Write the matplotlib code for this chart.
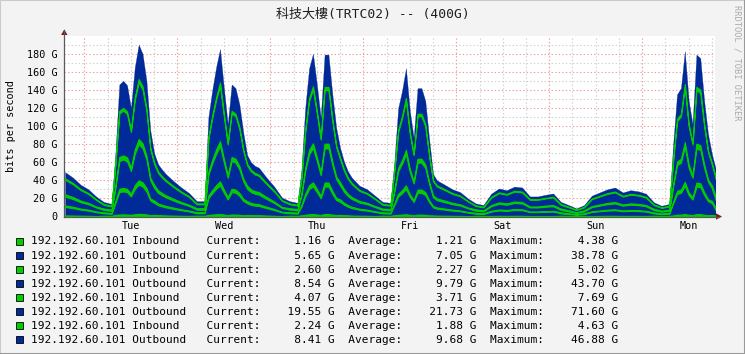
import matplotlib
matplotlib.use('Agg')
import matplotlib.pyplot as plt
from matplotlib.lines import Line2D
from matplotlib.patches import Polygon, Rectangle

# sample times in hours from Tue 00:00 (hourly around the daytime peaks)
hours = [-5, -3, -1,
         1, 3, 5, 7, 8, 9, 10, 11, 12, 13, 14, 15, 16, 17, 18, 19, 20, 21, 23,
         25, 27, 29, 31, 32, 33, 34, 35, 36, 37, 38, 39, 40, 41, 42, 43, 44, 45, 47,
         49, 51, 53, 55, 56, 57, 58, 59, 60, 61, 62, 63, 64, 65, 66, 67, 68, 69, 71,
         73, 75, 77, 79, 80, 81, 82, 83, 84, 85, 86, 87, 88, 89, 90, 91, 93, 95,
         97, 99, 101, 103, 105, 107, 109, 111, 113, 115, 117, 119,
         121, 123, 125, 127, 129, 131, 133, 135, 137, 139, 141, 143,
         145, 147, 149, 151, 152, 153, 154, 155, 156, 157, 158, 159, 160, 161, 162, 163]

in1 = [1.2, 1.1, 0.9,
       0.8, 0.6, 0.9, 0.8, 1.8, 2.2, 2.3, 2.2, 1.8, 2.5, 2.9, 2.7, 2.3, 1.4, 1.8, 1.5, 1.3, 1.2, 1.0,
       0.8, 0.7, 0.9, 0.9, 1.7, 2.1, 2.5, 2.8, 2.1, 1.5, 2.2, 2.1, 1.9, 1.4, 1.7, 1.5, 1.4, 1.4, 1.1,
       0.8, 0.5, 0.9, 0.8, 1.3, 1.8, 2.5, 2.7, 2.2, 1.6, 2.7, 2.7, 2.0, 1.5, 1.9, 1.5, 1.3, 1.1, 0.9,
       0.8, 0.6, 0.9, 0.8, 1.5, 1.8, 2.1, 2.5, 1.8, 1.3, 2.1, 2.1, 1.9, 1.3, 1.2, 1.0, 0.9, 0.8,
       0.7, 0.5, 0.8, 0.7, 0.6, 0.8, 0.7, 0.8, 0.8, 0.6, 0.6, 0.6,
       0.6, 0.9, 0.7, 0.5, 0.7, 0.6, 0.7, 0.8, 0.8, 0.7, 0.7, 0.7,
       0.6, 0.9, 0.7, 0.8, 1.2, 2.0, 2.1, 2.7, 1.9, 1.5, 2.7, 2.6, 1.9, 1.4, 1.7, 1.16]
out1 = [9.3, 8.2, 6.7,
        5.7, 4.2, 2.6, 2.2, 13.3, 24.8, 25.5, 24.7, 20.4, 28.1, 32.3, 30.6, 25.5, 16.2, 13.3, 11.0, 9.9, 8.9, 7.4,
        6.1, 4.9, 2.7, 2.7, 18.7, 23.8, 28.1, 31.5, 24.1, 17.3, 24.8, 24.1, 21.1, 15.8, 12.9, 11.4, 10.6, 10.3, 8.2,
        6.3, 4.0, 2.7, 2.4, 9.5, 20.4, 27.9, 30.6, 24.8, 18.5, 30.4, 30.4, 23.0, 16.7, 14.4, 11.6, 9.5, 8.2, 6.5,
        5.7, 4.4, 2.6, 2.4, 11.4, 20.4, 23.6, 27.9, 19.9, 14.8, 24.1, 24.1, 21.8, 14.5, 8.9, 7.6, 6.7, 5.7,
        5.1, 3.8, 2.3, 2.0, 4.8, 5.9, 5.5, 6.3, 6.1, 4.2, 4.2, 4.6,
        4.8, 2.6, 2.0, 1.4, 2.0, 4.4, 5.1, 5.7, 6.1, 5.1, 5.5, 5.3,
        4.8, 2.5, 1.9, 2.2, 13.6, 23.0, 24.1, 31.1, 21.8, 17.3, 30.4, 29.8, 21.8, 15.5, 13.1, 5.65]
in2 = [1.7, 1.5, 1.2,
       1.1, 0.8, 1.1, 1.0, 2.5, 3.7, 3.8, 3.6, 3.0, 4.1, 4.8, 4.5, 3.8, 2.4, 2.5, 2.0, 1.8, 1.6, 1.4,
       1.1, 0.9, 1.2, 1.2, 2.8, 3.5, 4.1, 4.6, 3.6, 2.6, 3.7, 3.6, 3.1, 2.3, 2.4, 2.1, 2.0, 1.9, 1.5,
       1.2, 0.7, 1.2, 1.1, 1.8, 3.0, 4.1, 4.5, 3.7, 2.7, 4.5, 4.5, 3.4, 2.5, 2.7, 2.1, 1.8, 1.5, 1.2,
       1.1, 0.8, 1.1, 1.1, 2.1, 3.0, 3.5, 4.1, 2.9, 2.2, 3.6, 3.6, 3.2, 2.1, 1.6, 1.4, 1.2, 1.1,
       0.9, 0.7, 1.0, 0.9, 0.9, 1.1, 1.0, 1.2, 1.1, 0.8, 0.8, 0.8,
       0.9, 1.1, 0.9, 0.6, 0.9, 0.8, 0.9, 1.1, 1.1, 0.9, 1.0, 1.0,
       0.9, 1.1, 0.8, 1.0, 2.0, 3.4, 3.6, 4.6, 3.2, 2.6, 4.5, 4.4, 3.2, 2.3, 2.4, 2.60]
out2 = [9.8, 8.6, 7.0,
        6.0, 4.4, 2.6, 2.2, 14.0, 30.7, 31.5, 30.5, 25.2, 34.7, 39.9, 37.8, 31.5, 20.0, 14.0, 11.6, 10.4, 9.4, 7.8,
        6.4, 5.2, 2.7, 2.7, 23.1, 29.4, 34.7, 38.9, 29.8, 21.4, 30.7, 29.8, 26.0, 19.5, 13.6, 12.0, 11.2, 10.8, 8.6,
        6.6, 4.2, 2.7, 2.4, 10.0, 25.2, 34.4, 37.8, 30.7, 22.9, 37.6, 37.6, 28.4, 20.6, 15.2, 12.2, 10.0, 8.6, 6.8,
        6.0, 4.6, 2.6, 2.4, 12.0, 25.2, 29.2, 34.4, 24.6, 18.3, 29.8, 29.8, 26.9, 17.9, 9.4, 8.0, 7.0, 6.0,
        5.4, 4.0, 2.3, 2.0, 5.0, 6.2, 5.8, 6.6, 6.4, 4.4, 4.4, 4.8,
        5.1, 2.6, 2.0, 1.4, 2.0, 4.6, 5.3, 6.0, 6.4, 5.3, 5.8, 5.6,
        5.0, 2.5, 1.9, 2.2, 16.8, 28.4, 29.8, 38.4, 26.9, 21.4, 37.6, 36.8, 26.9, 19.1, 13.8, 8.54]
in3 = [2.5, 2.2, 1.8,
       1.5, 1.1, 1.6, 1.4, 3.5, 4.4, 4.5, 4.4, 3.6, 5.0, 5.7, 5.4, 4.5, 2.9, 3.5, 2.9, 2.6, 2.4, 2.0,
       1.6, 1.3, 1.7, 1.7, 3.3, 4.2, 5.0, 5.6, 4.3, 3.1, 4.4, 4.3, 3.7, 2.8, 3.4, 3.0, 2.8, 2.7, 2.2,
       1.7, 1.1, 1.7, 1.5, 2.5, 3.6, 4.9, 5.4, 4.4, 3.3, 5.4, 5.4, 4.1, 2.9, 3.8, 3.1, 2.5, 2.2, 1.7,
       1.5, 1.2, 1.6, 1.5, 3.0, 3.6, 4.2, 4.9, 3.5, 2.6, 4.3, 4.3, 3.8, 2.6, 2.4, 2.0, 1.8, 1.5,
       1.4, 1.0, 1.5, 1.3, 1.3, 1.6, 1.5, 1.7, 1.6, 1.1, 1.1, 1.2,
       1.3, 1.6, 1.3, 0.9, 1.3, 1.2, 1.3, 1.5, 1.6, 1.3, 1.5, 1.4,
       1.3, 1.6, 1.2, 1.4, 2.4, 4.1, 4.3, 5.5, 3.8, 3.1, 5.4, 5.3, 3.8, 2.7, 3.5, 4.07]
out3 = [16.2, 14.2, 11.6,
        9.9, 7.3, 4.0, 3.5, 23.1, 48.2, 49.5, 47.9, 39.6, 54.5, 62.7, 59.4, 49.5, 31.4, 23.1, 19.1, 17.2, 15.5, 12.9,
        10.6, 8.6, 4.3, 4.3, 36.3, 46.2, 54.5, 61.1, 46.9, 33.7, 48.2, 46.9, 40.9, 30.7, 22.4, 19.8, 18.5, 17.8, 14.2,
        10.9, 6.9, 4.3, 3.8, 16.5, 39.6, 54.1, 59.4, 48.2, 36.0, 59.1, 59.1, 44.6, 32.3, 25.1, 20.1, 16.5, 14.2, 11.2,
        9.9, 7.6, 4.0, 3.8, 19.8, 39.6, 45.9, 54.1, 38.6, 28.7, 46.9, 46.9, 42.2, 28.1, 15.5, 13.2, 11.6, 9.9,
        8.9, 6.6, 3.6, 3.2, 8.3, 10.2, 9.6, 10.9, 10.6, 7.3, 7.3, 7.9,
        8.4, 4.0, 3.2, 2.3, 3.2, 7.6, 8.8, 9.9, 10.6, 8.8, 9.6, 9.2,
        8.3, 3.9, 3.0, 3.5, 26.4, 44.6, 46.9, 60.4, 42.2, 33.7, 59.1, 57.8, 42.2, 30.0, 22.8, 19.55]
in4 = [1.5, 1.3, 1.1,
       0.9, 0.7, 1.0, 0.8, 2.1, 2.9, 3.0, 2.9, 2.4, 3.3, 3.8, 3.6, 3.0, 1.9, 2.1, 1.7, 1.6, 1.4, 1.2,
       1.0, 0.8, 1.0, 1.0, 2.2, 2.8, 3.3, 3.7, 2.8, 2.0, 2.9, 2.8, 2.5, 1.9, 2.0, 1.8, 1.7, 1.6, 1.3,
       1.0, 0.6, 1.0, 0.9, 1.5, 2.4, 3.3, 3.6, 2.9, 2.2, 3.6, 3.6, 2.7, 2.0, 2.3, 1.8, 1.5, 1.3, 1.0,
       0.9, 0.7, 1.0, 0.9, 1.8, 2.4, 2.8, 3.3, 2.3, 1.7, 2.8, 2.8, 2.6, 1.7, 1.4, 1.2, 1.1, 0.9,
       0.8, 0.6, 0.9, 0.8, 0.8, 0.9, 0.9, 1.0, 1.0, 0.7, 0.7, 0.7,
       0.8, 1.0, 0.8, 0.5, 0.8, 0.7, 0.8, 0.9, 1.0, 0.8, 0.9, 0.8,
       0.8, 0.9, 0.7, 0.8, 1.6, 2.7, 2.8, 3.7, 2.6, 2.0, 3.6, 3.5, 2.6, 1.8, 2.1, 2.24]
out4 = [6.9, 6.0, 4.9,
        4.2, 3.1, 2.3, 2.0, 9.8, 29.2, 30.0, 29.0, 24.0, 33.0, 38.0, 36.0, 30.0, 19.0, 9.8, 8.1, 7.3, 6.6, 5.5,
        4.5, 3.6, 2.5, 2.5, 22.0, 28.0, 33.0, 37.0, 28.4, 20.4, 29.2, 28.4, 24.8, 18.6, 9.5, 8.4, 7.8, 7.6, 6.0,
        4.6, 2.9, 2.5, 2.2, 7.0, 24.0, 32.8, 36.0, 29.2, 21.8, 35.8, 35.8, 27.0, 19.6, 10.6, 8.5, 7.0, 6.0, 4.8,
        4.2, 3.2, 2.3, 2.2, 8.4, 24.0, 27.8, 32.8, 23.4, 17.4, 28.4, 28.4, 25.6, 17.0, 6.6, 5.6, 4.9, 4.2,
        3.8, 2.8, 2.1, 1.8, 3.5, 4.3, 4.1, 4.6, 4.5, 3.1, 3.1, 3.4,
        3.6, 2.3, 1.8, 1.3, 1.8, 3.2, 3.7, 4.2, 4.5, 3.7, 4.1, 3.9,
        3.5, 2.3, 1.7, 2.0, 16.0, 27.0, 28.4, 36.6, 25.6, 20.4, 35.8, 35.0, 25.6, 18.2, 9.7, 8.41]

days = ['Tue', 'Wed', 'Thu', 'Fri', 'Sat', 'Sun', 'Mon']
host = '192.192.60.101'
kinds = ['Inbound', 'Outbound'] * 4
current = [1.16, 5.65, 2.60, 8.54, 4.07, 19.55, 2.24, 8.41]
average = [1.21, 7.05, 2.27, 9.79, 3.71, 21.73, 1.88, 9.68]
maximum = [4.38, 38.78, 5.02, 43.70, 7.69, 71.60, 4.63, 46.88]

GREEN = '#00CC00'
BLUE = '#002A97'
MONO = 'DejaVu Sans Mono'
W, H = 745, 354


def fx(x):
    return x / W


def fy(y):
    return 1 - y / H


fig = plt.figure(figsize=(W / 100, H / 100), dpi=100)
fig.patch.set_facecolor('#F3F3F3')

left, right, top, bottom = 64.3, 715.0, 35.7, 216.5
ax = fig.add_axes([fx(left), fy(bottom), fx(right - left), (bottom - top) / H])
ax.set_facecolor('white')

# grid first, data on top
for v in range(10, 200, 10):
    major = v % 20 == 0
    ax.axhline(v, color='#EE9A9A' if major else '#CFCFCF', lw=0.8,
               dashes=(1.2, 2.0), zorder=0.5)
for h in range(0, 163, 6):
    major = h % 24 == 0
    ax.axvline(h, color='#EE9A9A' if major else '#CFCFCF', lw=0.8,
               dashes=(1.2, 2.0), zorder=0.5)

polys = ax.stackplot(hours, in1, out1, in2, out2, in3, out3, in4, out4,
                     colors=[GREEN, BLUE] * 4, edgecolor='face',
                     linewidth=0.2, zorder=2)
# inbound bands are thin, give them a visible outline like the rrd lines
for p in polys[0::2]:
    p.set_edgecolor(GREEN)
    p.set_linewidth(0.8)
    p.set_zorder(3)

ax.set_xlim(-5.2, 162.8)
ax.set_ylim(0, 200)
for s in ax.spines.values():
    s.set_visible(False)

ax.set_yticks(range(0, 200, 20))
ax.set_yticklabels(['0'] + [f'{v} G' for v in range(20, 200, 20)],
                   family=MONO, fontsize=7.3)
ax.set_xticks([12 + 24 * i for i in range(len(days))])
ax.set_xticklabels(days, family=MONO, fontsize=7.3)
ax.tick_params(axis='y', length=0, pad=5)
ax.tick_params(axis='x', length=0, pad=3.2)

# axis lines and arrows
fig.add_artist(Line2D([fx(left), fx(left)], [fy(bottom), fy(31)],
                      color='#5A5A5A', lw=0.9))
fig.add_artist(Line2D([fx(left), fx(719)], [fy(bottom), fy(bottom)],
                      color='#5A5A5A', lw=0.9))
fig.add_artist(Polygon([[fx(left), fy(29.3)], [fx(left - 3.2), fy(35)],
                        [fx(left + 3.2), fy(35)]], closed=True,
                       color='#7F1A1A', lw=0))
fig.add_artist(Polygon([[fx(722), fy(bottom)], [fx(716), fy(bottom - 3.2)],
                        [fx(716), fy(bottom + 3.2)]], closed=True,
                       color='#7F1A1A', lw=0))

fig.text(0.5, fy(14.5), '科技大樓(TRTC02) -- (400G)', ha='center', va='center',
         family=[MONO, 'Noto Sans CJK TC'], fontsize=9.4, color='#202020')
fig.text(fx(11), fy(126), 'bits per second', rotation=90, ha='center',
         va='center', family=MONO, fontsize=7.3)
fig.text(fx(737), fy(5), 'RRDTOOL / TOBI OETIKER', rotation=270, ha='center',
         va='top', family=MONO, fontsize=6.3, color='#ABABAB')

# legend rows
for i in range(8):
    yc = 241.5 + 14.04 * i
    fig.add_artist(Rectangle((fx(15.5), fy(yc + 3.7)), 7.4 / W, 7.4 / H,
                             facecolor=[GREEN, BLUE][i % 2],
                             edgecolor='black', lw=0.6))
    row = (f'{host} {kinds[i]:<8}   Current:{current[i]:9.2f} G  '
           f'Average:{average[i]:9.2f} G  Maximum:{maximum[i]:9.2f} G')
    fig.text(fx(31), fy(yc), row, ha='left', va='center',
             family=MONO, fontsize=8.05)

# frame shading
fig.add_artist(Line2D([0, 0, 1], [0, 1, 1], color='#CBCBCB', lw=1.5))
fig.add_artist(Line2D([0, 1, 1], [0.5 / H, 0.5 / H, 1], color='#999999', lw=2.2))

fig.savefig('out.png', dpi=100, facecolor=fig.get_facecolor())
